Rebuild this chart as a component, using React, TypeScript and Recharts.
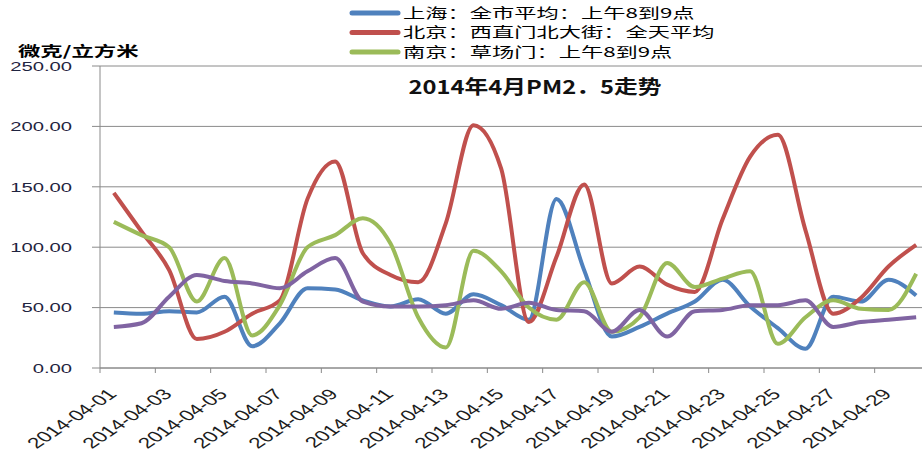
import { LineChart, Line, XAxis, YAxis, CartesianGrid, Legend } from "recharts"

const dates = [
	"2014-04-01", "2014-04-02", "2014-04-03", "2014-04-04", "2014-04-05",
	"2014-04-06", "2014-04-07", "2014-04-08", "2014-04-09", "2014-04-10",
	"2014-04-11", "2014-04-12", "2014-04-13", "2014-04-14", "2014-04-15",
	"2014-04-16", "2014-04-17", "2014-04-18", "2014-04-19", "2014-04-20",
	"2014-04-21", "2014-04-22", "2014-04-23", "2014-04-24", "2014-04-25",
	"2014-04-26", "2014-04-27", "2014-04-28", "2014-04-29", "2014-04-30",
]

// 上海：全市平均：上午8到9点
const shanghai = [46, 45, 47, 46, 59, 18, 37, 66, 65, 56, 51, 57, 45, 61, 52, 40, 140, 81, 26, 34, 45, 55, 73, 51, 33, 16, 59, 55, 73, 60]
// 北京：西直门北大街：全天平均
const beijing = [145, 113, 81, 24, 30, 45, 56, 140, 171, 95, 77, 71, 120, 201, 165, 38, 92, 152, 70, 84, 69, 63, 123, 175, 193, 114, 45, 58, 84, 102]
// 南京：草场门：上午8到9点
const nanjing = [121, 110, 100, 55, 91, 27, 52, 100, 110, 124, 103, 42, 17, 97, 80, 50, 40, 71, 30, 42, 87, 67, 74, 80, 20, 42, 56, 49, 48, 78]
// unnamed series (no legend entry)
const other = [34, 37, 59, 77, 72, 70, 66, 80, 91, 55, 51, 51, 52, 56, 49, 54, 48, 47, 30, 48, 26, 47, 48, 52, 52, 56, 34, 38, 40, 42]

const legendOrder = ["shanghai", "beijing", "nanjing"]
const yTicks = [0, 50, 100, 150, 200, 250]
const xLabelDays = [1, 3, 5, 7, 9, 11, 13, 15, 17, 19, 21, 23, 25, 27, 29]
const xBoundaries = [0.5, 2.5, 4.5, 6.5, 8.5, 10.5, 12.5, 14.5, 16.5, 18.5, 20.5, 22.5, 24.5, 26.5, 28.5, 30.5]

const data = dates.map((date, i) => ({
	idx: i + 1,
	date,
	shanghai: shanghai[i],
	beijing: beijing[i],
	nanjing: nanjing[i],
	other: other[i],
}))

const gray = "#8a8a8a"
const ink = "#1c1c1c"
const cjk = "'Noto Sans CJK SC', sans-serif"
const latin = "'Liberation Sans', Arial, sans-serif"
// the source image is stretched horizontally
const stretch = 1.5

const renderYTick = (props: any) => {
	const { x, y, payload } = props
	return (
		<text
			transform={`translate(${x},${y}) scale(${stretch},1)`}
			textAnchor="end"
			dy="0.355em"
			fontSize={13.5}
			fontFamily={latin}
			fill="#1f2440"
		>
			{Number(payload.value).toFixed(2)}
		</text>
	)
}

const renderXTick = (props: any) => {
	const { x, y, payload } = props
	const v = payload.value
	if (v % 1 !== 0) {
		return <line x1={x} y1={y} x2={x} y2={y + 5} stroke={gray} />
	}
	return (
		<text
			transform={`translate(${x + 4},${y + 27}) scale(${stretch},1) rotate(-45)`}
			textAnchor="end"
			fontSize={15}
			fontFamily={latin}
			fill={ink}
		>
			{dates[v - 1]}
		</text>
	)
}

const renderLegend = (props: any) => {
	const items = (props.payload || [])
		.filter((p: any) => legendOrder.includes(p.dataKey))
		.sort((a: any, b: any) => legendOrder.indexOf(a.dataKey) - legendOrder.indexOf(b.dataKey))
	return (
		<svg width={930} height={64} style={{ display: "block" }}>
			{items.map((p: any, i: number) => {
				const cy = 13 + i * 19.5
				return (
					<g key={p.dataKey}>
						<line
							x1={352}
							y1={cy}
							x2={398}
							y2={cy}
							stroke={p.color}
							strokeWidth={5}
							strokeLinecap="round"
						/>
						<text
							transform={`translate(403,${cy}) scale(1.66,1)`}
							dy="0.36em"
							fontSize={13.4}
							fontFamily={cjk}
							fill="#000"
						>
							{p.value}
						</text>
					</g>
				)
			})}
		</svg>
	)
}

const App = () => {
	return (
		<div
			style={{
				position: "absolute",
				left: 0,
				top: 0,
				width: 922,
				height: 457,
				overflow: "hidden",
				background: "#fff",
			}}
		>
			<LineChart
				width={930}
				height={457}
				data={data}
				margin={{ top: 66, right: 0, bottom: 0, left: 0 }}
			>
				<CartesianGrid vertical={false} stroke={gray} />
				<XAxis
					type="number"
					dataKey="idx"
					domain={[0.5, 30.5]}
					ticks={[...xBoundaries, ...xLabelDays].sort((a, b) => a - b)}
					interval={0}
					height={89}
					tickSize={0}
					tickMargin={0}
					tickLine={false}
					axisLine={{ stroke: gray }}
					tick={renderXTick}
				/>
				<YAxis
					domain={[0, 250]}
					ticks={yTicks}
					interval={0}
					width={100}
					tickSize={8}
					tickMargin={20}
					axisLine={{ stroke: gray }}
					tickLine={{ stroke: gray }}
					tick={renderYTick}
				/>
				<Legend
					layout="horizontal"
					verticalAlign="middle"
					align="center"
					wrapperStyle={{ left: 0, top: 0, width: 930, height: 64 }}
					content={renderLegend}
				/>
				<Line
					type="monotone"
					dataKey="shanghai"
					name="上海：全市平均：上午8到9点"
					stroke="#4f81bd"
					strokeWidth={4}
					dot={false}
					activeDot={false}
					isAnimationActive={false}
				/>
				<Line
					type="monotone"
					dataKey="beijing"
					name="北京：西直门北大街：全天平均"
					stroke="#c0504d"
					strokeWidth={4}
					dot={false}
					activeDot={false}
					isAnimationActive={false}
				/>
				<Line
					type="monotone"
					dataKey="nanjing"
					name="南京：草场门：上午8到9点"
					stroke="#9bbb59"
					strokeWidth={4}
					dot={false}
					activeDot={false}
					isAnimationActive={false}
				/>
				<Line
					type="monotone"
					dataKey="other"
					legendType="none"
					stroke="#8064a2"
					strokeWidth={4}
					dot={false}
					activeDot={false}
					isAnimationActive={false}
				/>
				<text
					transform="translate(18,51) scale(1.6,1)"
					dy="0.36em"
					fontSize={14}
					fontWeight="bold"
					fontFamily={cjk}
					fill="#000"
				>
					微克/立方米
				</text>
				<text
					transform="translate(535,87) scale(1.25,1)"
					textAnchor="middle"
					dy="0.36em"
					fontSize={19}
					fontWeight="bold"
					fontFamily={cjk}
					fill="#111"
				>
					2014年4月PM2．5走势
				</text>
			</LineChart>
		</div>
	)
}

export default App
